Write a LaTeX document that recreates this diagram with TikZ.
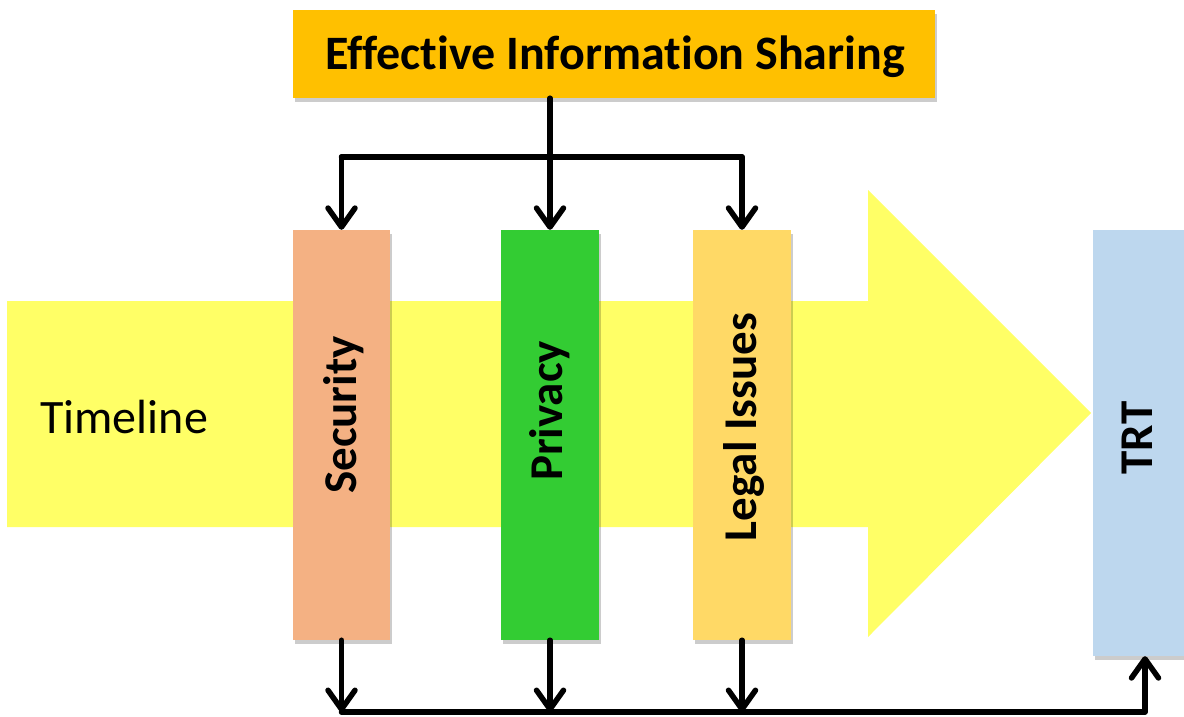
\documentclass[tikz,border=0pt]{standalone}
\usepackage{fontspec}
\setmainfont{Carlito}[Ligatures=NoCommon]
\usetikzlibrary{arrows.meta,shadows}

\definecolor{hdrgold}{HTML}{FFC000}
\definecolor{timeyel}{HTML}{FFFF66}
\definecolor{secsalmon}{HTML}{F4B183}
\definecolor{privgreen}{HTML}{33CC33}
\definecolor{legalyel}{HTML}{FFD966}
\definecolor{trtblue}{HTML}{BDD7EE}

\tikzset{
  boxshadow/.style={drop shadow={shadow xshift=2pt, shadow yshift=-4pt, fill=black, opacity=0.2}},
  pillar/.style={rectangle, inner sep=0pt, minimum width=97pt, minimum height=410pt, boxshadow},
  vlabel/.style={rotate=90, font=\fontsize{47}{47}\selectfont\bfseries, inner sep=0pt},
  link/.style={line width=5.5pt, line cap=round, line join=round},
  flow/.style={link, -{Straight Barb[length=19pt, width=27pt, line cap=round, line join=round]}}
}

\begin{document}
\begin{tikzpicture}[x=1pt, y=-1pt]
\useasboundingbox (0,0) rectangle (1184,716);

% timeline arrow in the background
\fill[timeyel] (7,301) -- (868,301) -- (868,190) -- (1091,413)
  -- (868,637) -- (868,527) -- (7,527) -- cycle;
\node[font=\fontsize{48}{48}\selectfont, anchor=west, inner sep=0pt] (tl) at (40,417) {Timeline};

% header box
\node[rectangle, fill=hdrgold, boxshadow, minimum width=642pt, minimum height=88pt,
      inner sep=0pt] (eis) at (614,54) {};
\node[font=\fontsize{48}{48}\selectfont\bfseries, inner sep=0pt] (eisl) at (615,57)
      {Effective Information Sharing};

% the three concerns
\node[pillar, fill=secsalmon] (sec) at (341.5,435) {};
\node[pillar, fill=privgreen, minimum width=98pt] (prv) at (550,435) {};
\node[pillar, fill=legalyel, minimum width=98pt] (leg) at (742,435) {};
\node[vlabel] (secl) at (344,415) {Security};
\node[vlabel] (prvl) at (550,411) {Privacy};
\node[vlabel] (legl) at (744,427) {Legal Issues};

% target box on the right
\node[rectangle, fill=trtblue, boxshadow, inner sep=0pt, minimum width=91pt,
      minimum height=426pt] (trt) at (1138.5,443) {};
\node[vlabel] (trtl) at (1137,438) {TRT};

% distribution from the header
\coordinate (topbus) at (0,157);
\draw[link] (prv.north |- eis.south) -- (prv.north |- topbus);
\draw[link] (sec.north |- topbus) -- (leg.north |- topbus);
\draw[flow] (sec.north |- topbus) -- (sec.north);
\draw[flow] (prv.north |- topbus) -- (prv.north);
\draw[flow] (leg.north |- topbus) -- (leg.north);

% collection into TRT
\coordinate (botbus) at (0,712);
\coordinate (trtin) at ([xshift=6.5pt]trt.south);
\draw[flow] (sec.south) -- (sec.south |- botbus);
\draw[flow] (prv.south) -- (prv.south |- botbus);
\draw[flow] (leg.south) -- (leg.south |- botbus);
\draw[flow] (sec.south |- botbus) -| (trtin);
\end{tikzpicture}
\end{document}
